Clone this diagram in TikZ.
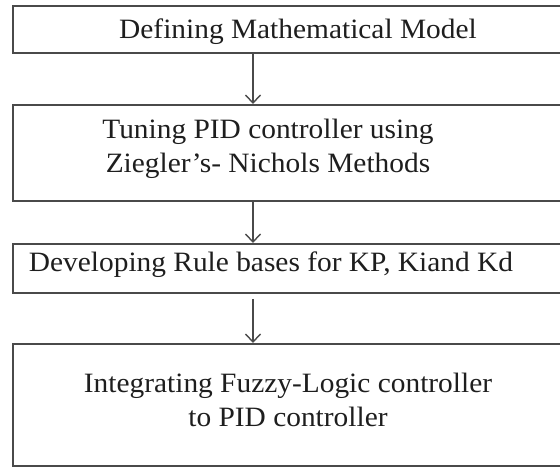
\documentclass[tikz,border=0pt]{standalone}
\usepackage{fontspec}
\setmainfont{Liberation Serif}[FakeStretch=1.05]
\usetikzlibrary{arrows.meta}
\definecolor{boxline}{HTML}{4A4A4A}
\definecolor{txt}{HTML}{1E1E1E}
\begin{document}
\begin{tikzpicture}[x=1pt,y=-1pt,
  stepbox/.style={draw=boxline,line width=1.9pt,inner sep=0pt,minimum width=580pt,anchor=north west},
  steptext/.style={text=txt,font=\fontsize{28}{34}\selectfont,align=center,anchor=base,inner sep=0pt},
  flow/.style={draw=boxline,line width=1.4pt,-{Straight Barb[length=8pt,width=15pt,line width=1.4pt]}}]
\useasboundingbox (0,0) rectangle (560,467);
\node[stepbox,minimum height=47pt] (b1) at (12,5) {};
\node[stepbox,minimum height=96pt] (b2) at (12,104) {};
\node[stepbox,minimum height=49pt] (b3) at (12,243) {};
\node[stepbox,minimum height=122pt] (b4) at (12,343) {};
\coordinate (ax) at (253,0);
\node[steptext] (t1) at (298,38) {Defining Mathematical Model};
\node[steptext] (t2) at (268,172) {Tuning PID controller using\\Ziegler’s- Nichols Methods};
\node[steptext] (t3) at (271,271) {Developing Rule bases for KP, Kiand Kd};
\node[steptext] (t4) at (288,426) {Integrating Fuzzy-Logic controller\\to PID controller};
\draw[flow] (b1.south -| ax) -- (b2.north -| ax);
\draw[flow] (b2.south -| ax) -- (b3.north -| ax);
\draw[flow,shorten <=5pt] (b3.south -| ax) -- (b4.north -| ax);
\end{tikzpicture}
\end{document}
